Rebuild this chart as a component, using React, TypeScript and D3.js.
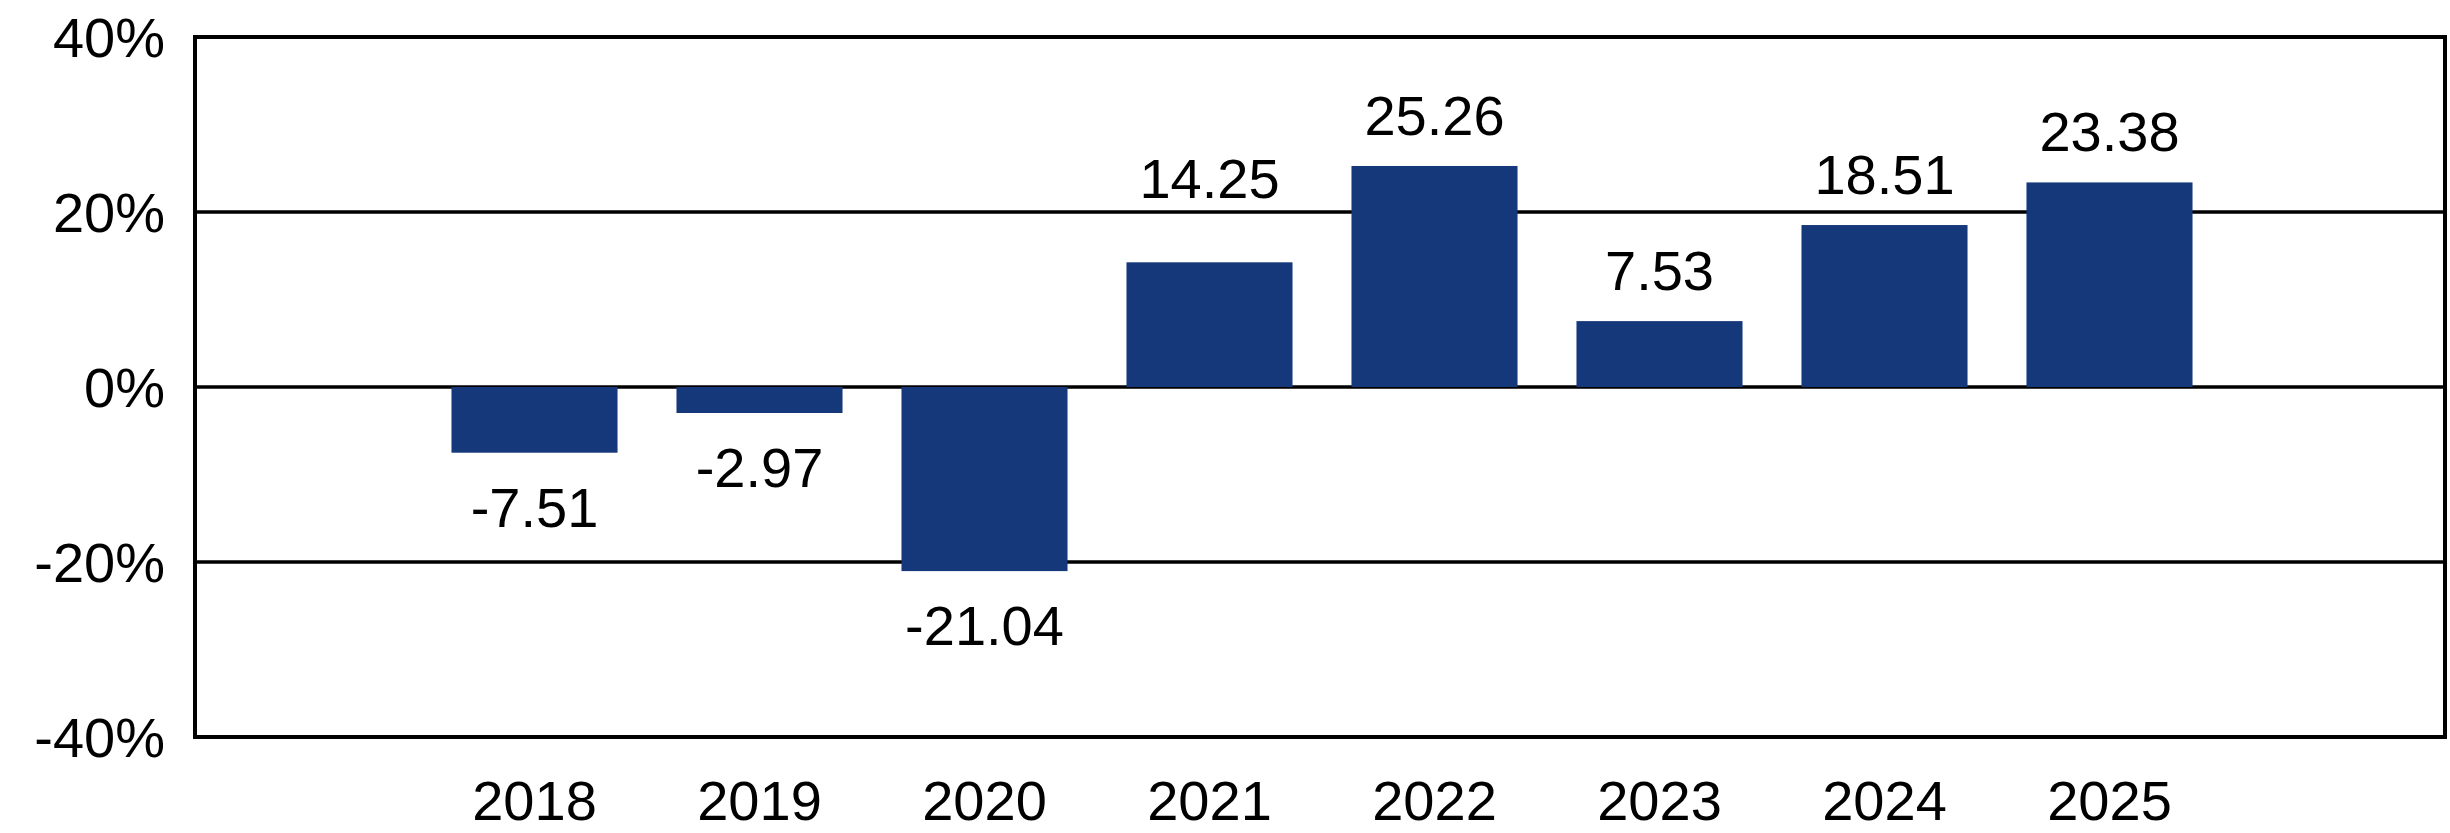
import React from "react";
import * as d3 from "d3";

const years = ["2018", "2019", "2020", "2021", "2022", "2023", "2024", "2025"];
const returns = [-7.51, -2.97, -21.04, 14.25, 25.26, 7.53, 18.51, 23.38];
const yTicks = [-40, -20, 0, 20, 40];

const W = 2450;
const H = 833;
const M = { left: 195, right: 5, top: 37, bottom: 96 };
const FONT = "'Liberation Sans', Arial, Helvetica, sans-serif";
const BAR = "#15387a";

export default function App() {
  const domain = ["_a", ...years, "_b"];
  const x = d3
    .scaleBand<string>()
    .domain(domain)
    .range([M.left + 2, W - M.right + 2])
    .paddingInner(0.262)
    .paddingOuter(0.131);
  const y = d3.scaleLinear().domain([-40, 40]).range([H - M.bottom, M.top]);
  const gridVals = yTicks.filter((t) => t !== -40 && t !== 40);

  const labelPos = (v: number) => {
    if (v >= 0) {
      let base = y(v) - 31;
      for (const g of gridVals) {
        const gy = y(g);
        if (gy > base - 44 && gy < base + 6) base = gy - 14;
      }
      return base;
    }
    return y(v) + 74;
  };

  return (
    <svg
      width={W}
      height={H}
      style={{ position: "absolute", left: 0, top: 0, background: "#fff" }}
      fontFamily={FONT}
    >
      <rect x={0} y={0} width={W} height={H} fill="#fff" />
      {gridVals.map((t) => (
        <line
          key={t}
          x1={M.left}
          x2={W - M.right}
          y1={y(t)}
          y2={y(t)}
          stroke="#000"
          strokeWidth={3.5}
        />
      ))}
      {years.map((yr, i) => {
        const v = returns[i];
        return (
          <rect
            key={yr}
            x={x(yr)}
            width={x.bandwidth()}
            y={y(Math.max(0, v))}
            height={Math.abs(y(v) - y(0))}
            fill={BAR}
          />
        );
      })}
      <rect
        x={M.left}
        y={M.top}
        width={W - M.right - M.left}
        height={H - M.bottom - M.top}
        fill="none"
        stroke="#000"
        strokeWidth={4}
      />
      {yTicks.map((t) => (
        <text
          key={t}
          x={M.left - 30}
          y={y(t)}
          dy="0.36em"
          textAnchor="end"
          fontSize={56}
          fill="#000"
        >
          {`${t}%`}
        </text>
      ))}
      {years.map((yr, i) => (
        <text
          key={"l" + yr}
          x={(x(yr) as number) + x.bandwidth() / 2}
          y={labelPos(returns[i])}
          textAnchor="middle"
          fontSize={56}
          fill="#000"
        >
          {returns[i].toFixed(2)}
        </text>
      ))}
      {years.map((yr) => (
        <text
          key={"x" + yr}
          x={(x(yr) as number) + x.bandwidth() / 2}
          y={820}
          textAnchor="middle"
          fontSize={56}
          fill="#000"
        >
          {yr}
        </text>
      ))}
    </svg>
  );
}
